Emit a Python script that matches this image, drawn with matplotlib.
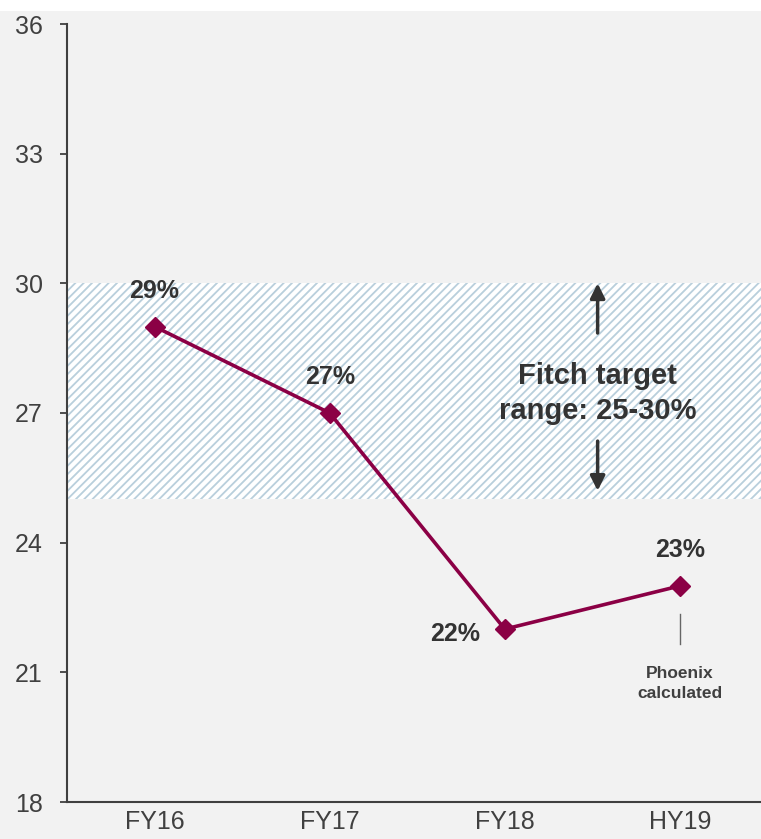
import matplotlib
matplotlib.use("Agg")
import matplotlib.pyplot as plt
from matplotlib.patches import Rectangle

categories = ["FY16", "FY17", "FY18", "HY19"]
values = [29, 27, 22, 23]
labels = ["29%", "27%", "22%", "23%"]
yticks = [18, 21, 24, 27, 30, 33, 36]
band_low, band_high = 25, 30

plt.rcParams['font.family'] = ['Liberation Sans', 'DejaVu Sans']
plt.rcParams['hatch.linewidth'] = 1.3
plt.rcParams['hatch.color'] = '#b9cfdc'

W, H = 761, 839
fig = plt.figure(figsize=(W/100, H/100), dpi=100, facecolor='white')
fig.patches.append(Rectangle((0, 0), 1, 1 - 11/H, transform=fig.transFigure,
                             facecolor='#f2f2f2', edgecolor='none', zorder=-10))

left = 67/W
right = 767.5/W
bottom = 1 - 802/H
top = 1 - 24/H
ax = fig.add_axes([left, bottom, right-left, top-bottom])
ax.set_facecolor('none')

x = list(range(len(categories)))
ax.set_xlim(-0.5, len(categories)-0.5)
ax.set_ylim(18, 36)

# target band
ax.axhspan(band_low, band_high, facecolor='white', edgecolor='#b9cfdc',
           hatch='////', linewidth=0, zorder=1)

line_color = '#8b0045'
ax.plot(x, values, color=line_color, lw=2.6, marker='D', markersize=10,
        zorder=5)

text_color = '#333333'
offsets = [(0, 36), (0, 36), (-50, -5), (0, 36)]
for xi, v, lab, (dx, dy) in zip(x, values, labels, offsets):
    ax.annotate(lab, (xi, v), xytext=(dx*0.72, dy*0.72), textcoords='offset points',
                ha='center', va='center', fontsize=18, fontweight='bold',
                color=text_color, zorder=6)

# Fitch annotation
xm = 2.53
ax.text(xm, 27.45, "Fitch target\nrange: 25-30%", ha='center', va='center',
        fontsize=21, fontweight='bold', color=text_color, linespacing=1.3, zorder=6)
ax.annotate('', xy=(xm, 30), xytext=(xm, 28.85),
            arrowprops=dict(arrowstyle='-|>', color='#333333', lw=2.5,
                            mutation_scale=22, shrinkA=0, shrinkB=0), zorder=6)
ax.annotate('', xy=(xm, 25.2), xytext=(xm, 26.35),
            arrowprops=dict(arrowstyle='-|>', color='#333333', lw=2.5,
                            mutation_scale=22, shrinkA=0, shrinkB=0), zorder=6)

# Phoenix note
ax.plot([3, 3], [21.65, 22.35], color='#666666', lw=1, zorder=4)
ax.text(3, 20.75, "Phoenix\ncalculated", ha='center', va='center',
        fontsize=12.5, fontweight='bold', color='#404040', linespacing=1.4)

ax.set_yticks(yticks)
ax.set_xticks(x)
ax.set_xticklabels(categories)
ax.tick_params(axis='y', direction='out', length=5, width=1.3, color='#404040',
               labelsize=18, labelcolor='#404040', pad=12.5)
ax.tick_params(axis='x', length=0, labelsize=18, labelcolor='#404040', pad=6)
for s in ['top', 'right']:
    ax.spines[s].set_visible(False)
for s in ['left', 'bottom']:
    ax.spines[s].set_color('#404040')
    ax.spines[s].set_linewidth(1.5)

fig.savefig('out.png', dpi=100, facecolor=fig.get_facecolor())
